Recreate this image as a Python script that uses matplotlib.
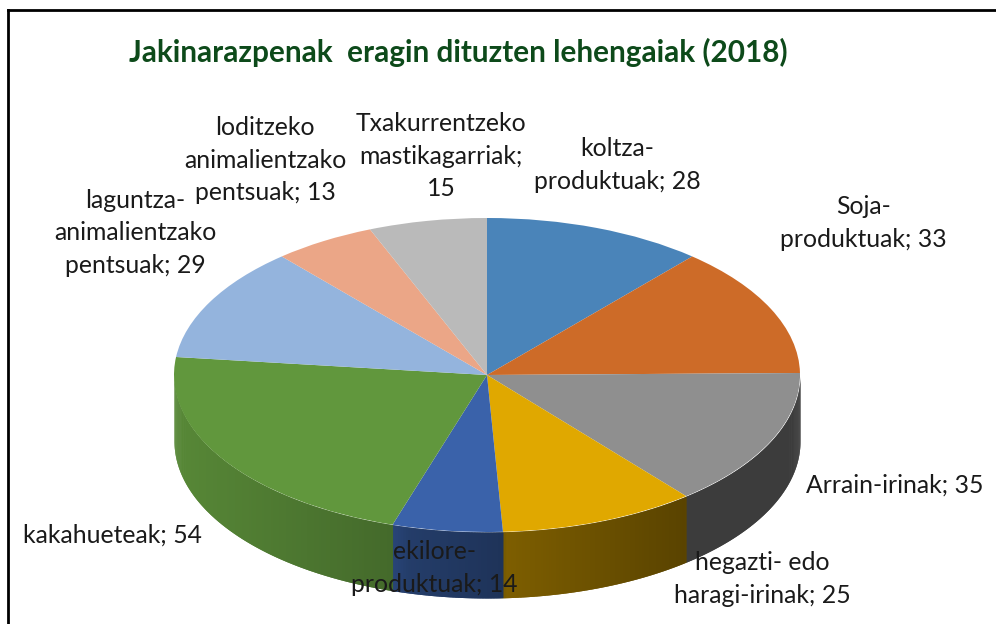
import numpy as np
import matplotlib
matplotlib.use('Agg')
import matplotlib.pyplot as plt
from matplotlib.lines import Line2D

W, H = 996, 624

title = 'Jakinarazpenak  eragin dituzten lehengaiak (2018)'
names = ['koltza-\nproduktuak', 'Soja-\nproduktuak', 'Arrain-irinak',
         'hegazti- edo\nharagi-irinak', 'ekilore-\nproduktuak', 'kakahueteak',
         'laguntza-\nanimalientzako\npentsuak', 'loditzeko\nanimalientzako\npentsuak',
         'Txakurrentzeko\nmastikagarriak']
values = [28, 33, 35, 25, 14, 54, 29, 13, 15]
seps = [' ', ' ', ' ', ' ', ' ', ' ', ' ', ' ', '\n']
colors = ['#4a84b9', '#cd6b28', '#8f8f8f', '#e0a800', '#3a62aa',
          '#61973d', '#94b4dd', '#eba687', '#bababa']
# label centres in pixels
label_pos = [(617, 165), (863, 223), (895, 485), (762, 579), (434, 568),
             (112, 535), (135, 233), (265, 160), (441, 156)]

# pie geometry in pixels
cx, cy, rx, ry, depth = 487, 375, 313, 157, 66

plt.rcParams['font.family'] = ['Lato', 'DejaVu Sans']

fig = plt.figure(figsize=(W / 100, H / 100), dpi=100)
ax = fig.add_axes([0, 0, 1, 1])


def to_data(px, py):
    return (px - cx) / rx, (cy - py) / ry


# side of the pie, darker towards the right
d = depth / ry
edges = np.cumsum([0] + values) / sum(values) * 360
for i, col in enumerate(colors):
    a0, a1 = max(edges[i], 90), min(edges[i + 1], 270)
    if a1 <= a0:
        continue
    angles = np.linspace(a0, a1, int((a1 - a0) * 2) + 2)
    step = angles[1] - angles[0]
    for t0 in angles[:-1]:
        # each strip runs on under the next one so no seams show
        t = np.radians(np.linspace(t0, min(t0 + 2 * step, 270), 4))
        xs, ys = np.sin(t), np.cos(t)
        shade = np.interp(np.sin(np.radians(t0 + step / 2)),
                          [-1, -0.3, -0.25, 0.05, 0.06, 0.63, 0.64, 1],
                          [0.9, 0.7, 0.62, 0.52, 0.56, 0.4, 0.42, 0.42])
        rgb = np.array(matplotlib.colors.to_rgb(col)) * shade
        ax.fill_between(xs, ys, ys - d, color=rgb, lw=0)

# top of the pie
ax.pie(values, colors=colors, startangle=90, counterclock=False, radius=1)
ax.set_aspect('auto')
ax.set_xlim((0 - cx) / rx, (W - cx) / rx)
ax.set_ylim((cy - H) / ry, cy / ry)

for name, val, sep, (px, py) in zip(names, values, seps, label_pos):
    x, y = to_data(px, py)
    ax.text(x, y, f'{name};{sep}{val}', ha='center', va='center', fontsize=17.8,
            color='#1a1a1a', linespacing=1.5)

ax.text(*to_data(458, 52), title, ha='center', va='center', fontsize=21.4,
        fontweight='bold', color='#0d4a1a')

# frame of the screenshot, open on the right
for xs, ys in [((8, 8), (10, H)), ((8, W), (10, 10))]:
    fig.add_artist(Line2D(np.array(xs) / W, 1 - np.array(ys) / H, color='black', lw=2))

fig.savefig('out.png', dpi=100)
